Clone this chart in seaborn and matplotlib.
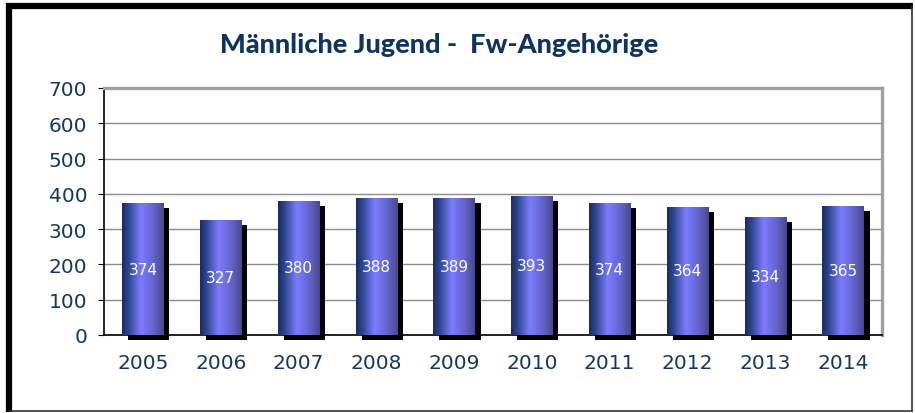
import numpy as np
import pandas as pd
import matplotlib
matplotlib.use("Agg")
import matplotlib.pyplot as plt
import matplotlib.patheffects as pe
from matplotlib.colors import LinearSegmentedColormap
from matplotlib.lines import Line2D
import seaborn as sns

# ----- data -----
years = ["2005", "2006", "2007", "2008", "2009", "2010", "2011", "2012", "2013", "2014"]
values = [374, 327, 380, 388, 389, 393, 374, 364, 334, 365]
y_ticks = [0, 100, 200, 300, 400, 500, 600, 700]
title = "Männliche Jugend -  Fw-Angehörige"

text_color = "#17375E"
title_color = "#0F3461"

sns.set_theme(style="white")
plt.rcParams["font.family"] = ["DejaVu Sans"]

df = pd.DataFrame({"year": years, "value": values})

fig = plt.figure(figsize=(9.15, 4.14), dpi=100)
ax = fig.add_axes([104 / 915, 78 / 414, 778 / 915, 247 / 414])

sns.barplot(data=df, x="year", y="value", color="#5a5ad0", width=0.53,
            saturation=1, ax=ax, zorder=3)

# cylinder-like gradient across each bar
bar_cmap = LinearSegmentedColormap.from_list(
    "bar", [(0.0, "#1a2a62"), (0.15, "#2c4590"), (0.45, "#7c7cff"),
            (0.75, "#6464cc"), (1.0, "#48488a")])
grad = np.linspace(0, 1, 256).reshape(1, -1)

for p in ax.patches:
    p.set_clip_on(False)
    p.set_edgecolor("none")
    p.set_path_effects([pe.withSimplePatchShadow(offset=(4.3, -3.6),
                                                 shadow_rgbFace="black", alpha=1.0)])
    x0, w, h = p.get_x(), p.get_width(), p.get_height()
    im = ax.imshow(grad, cmap=bar_cmap, aspect="auto",
                   extent=[x0, x0 + w, 0, h], zorder=4, interpolation="bicubic")
    im.set_clip_path(p)
    ax.text(x0 + w / 2, h / 2, f"{int(round(h))}", color="white",
            ha="center", va="center", fontsize=11, zorder=5)

ax.set_xlim(-0.5, len(years) - 0.5)
ax.set_ylim(0, 700)
ax.set_yticks(y_ticks)
ax.set_xlabel("")
ax.set_ylabel("")

ax.yaxis.grid(True, color="#8c8c8c", linewidth=1.0)
ax.set_axisbelow(True)

ax.set_xticks(np.arange(-0.5, len(years), 1.0), minor=True)
ax.tick_params(axis="x", which="major", length=0, pad=13, labelsize=14.5, labelcolor=text_color)
ax.tick_params(axis="x", which="minor", length=4, width=0.8, color="black", direction="out")
ax.tick_params(axis="y", length=4, width=0.8, color="black", direction="out",
               pad=8, labelsize=14.5, labelcolor=text_color, left=True)

for s in ["left", "bottom"]:
    ax.spines[s].set_color("black")
    ax.spines[s].set_linewidth(1.2)
for s in ["top", "right"]:
    ax.spines[s].set_color("#a0a0a0")
    ax.spines[s].set_linewidth(2.4)

fig.text(439 / 915, 1 - 45 / 414, title, ha="center", va="center",
         fontsize=19.5, fontweight=900, color=title_color,
         family=["Lato", "DejaVu Sans"])

# outer frame: heavy on top / left, thin on right / bottom
frame = dict(transform=fig.transFigure, solid_capstyle="butt")
fig.add_artist(Line2D([9 / 915, 9 / 915], [1 - 4 / 414, 1 - 413 / 414],
                      color="black", linewidth=4.5, **frame))
fig.add_artist(Line2D([6 / 915, 913 / 915], [1 - 7 / 414, 1 - 7 / 414],
                      color="black", linewidth=4.5, **frame))
fig.add_artist(Line2D([912 / 915, 912 / 915], [1 - 7 / 414, 1 - 412 / 414],
                      color="#333333", linewidth=1.2, **frame))
fig.add_artist(Line2D([9 / 915, 913 / 915], [1 - 412 / 414, 1 - 412 / 414],
                      color="#333333", linewidth=1.2, **frame))

fig.savefig("out.png", dpi=100, facecolor="white")
